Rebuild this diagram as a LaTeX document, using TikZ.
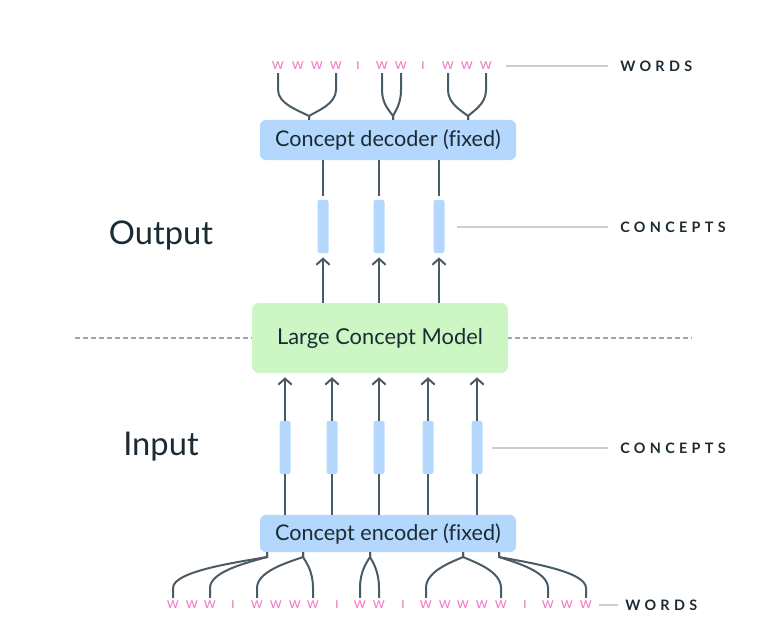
\documentclass[tikz,border=0pt]{standalone}
\usepackage{fontspec}
\setmainfont{Lato}[Ligatures=NoCommon]
\newfontfamily\labfont[LetterSpace=30]{Lato Bold}
\usetikzlibrary{arrows.meta}
\definecolor{pinkw}{HTML}{F47BC8}
\definecolor{darktext}{HTML}{1C2B33}
\definecolor{wirec}{HTML}{4B5B66}
\definecolor{blueb}{HTML}{B3D7FD}
\definecolor{greenb}{HTML}{CCF7C4}
\definecolor{grayl}{HTML}{C9CED3}
\definecolor{dashc}{HTML}{93A8BA}
\tikzset{
  word/.style={text=pinkw, font=\fontsize{11.5}{12}\selectfont, inner sep=2.2pt},
  wire/.style={draw=wirec, line width=1.5pt},
  arr/.style={wire, -{Straight Barb[length=4.5pt,width=10pt]}},
  bar/.style={fill=blueb, rounded corners=1.8pt, minimum width=8.25pt, minimum height=40pt, inner sep=0pt},
  boxb/.style={fill=blueb, rounded corners=4.5pt, minimum width=192pt, text=darktext, font=\fontsize{16.2}{18}\selectfont, inner sep=0pt},
  lcm/.style={fill=greenb, rounded corners=5pt, minimum width=192pt, minimum height=52.5pt, text=darktext, font=\fontsize{16.4}{18}\selectfont, inner sep=0pt},
  grayline/.style={draw=grayl, line width=1.1pt},
  tag/.style={text=darktext, font=\fontsize{10.8}{12}\labfont, anchor=west, inner sep=0pt},
  side/.style={text=darktext, font=\fontsize{24.5}{28}\selectfont, inner sep=0pt},
}
\newcommand\toparm[3]{\draw[wire] (#1.south) -- (#2,90) .. controls (#2,104) and ({#3+0.3*(#2-#3)},111) .. (#3,116) -- (#3,120);}
\newcommand\botarm[3]{\draw[wire] (#3,552) -- (#3,557) .. controls ({#3+0.3*(#2-#3)},562) and (#2,571) .. (#2,588) -- (#1.north);}
\begin{document}
\begin{tikzpicture}[x=0.75pt,y=-0.75pt]
\useasboundingbox (0,0) rectangle (775,642);
% dashed separator
\coordinate (dl) at (75,338);
\coordinate (dr) at (692,338);
\draw[draw=dashc, line width=0.8pt, dash pattern=on 3.5pt off 2.5pt] (dl) -- (dr);
% boxes
\node[boxb, minimum height=30pt] (dec) at (388,140) {Concept decoder (fixed)};
\node[lcm] (lcm) at (380,338) {Large Concept Model};
\node[boxb, minimum height=28pt] (enc) at (388,533.5) {Concept encoder (fixed)};
% side labels
\node[side] (out) at (161,235) {Output};
\node[side] (inp) at (161,447) {Input};
% top words
\foreach \x [count=\i] in {278,298,317,336,382,401,448,467,486}
  \node[word] (tw\i) at (\x,66) {w};
\foreach \x [count=\i] in {358,423}
  \node[word] (ts\i) at (\x,66) {ı};
% bottom words
\foreach \x [count=\i] in {173,192,210,257,276,295,313,360,379,426,445,463,482,501,548,567,586}
  \node[word] (bw\i) at (\x,605) {w};
\foreach \x [count=\i] in {233,337,403,525}
  \node[word] (bs\i) at (\x,605) {ı};
% top arms
\toparm{tw1}{278}{309}
\toparm{tw4}{336}{309}
\toparm{tw5}{382}{393}
\toparm{tw6}{401}{393}
\toparm{tw7}{448}{468}
\toparm{tw9}{486}{468}
% bottom arms
\botarm{bw1}{173}{267}
\botarm{bw3}{210}{267}
\botarm{bw4}{257}{303}
\botarm{bw7}{313}{303}
\botarm{bw8}{360}{370}
\botarm{bw9}{379}{370}
\botarm{bw10}{426}{463}
\botarm{bw14}{501}{463}
\botarm{bw15}{548}{499}
\botarm{bw17}{586}{499}
% output concepts
\foreach \x [count=\i] in {323,379,439} {
  \node[bar] (ob\i) at (\x,226.5) {};
  \draw[wire, shorten >=3pt] (dec.south -| ob\i) -- (ob\i.north);
  \draw[arr, shorten >=3pt] (lcm.north -| ob\i) -- (ob\i.south);
}
% input concepts
\foreach \x [count=\i] in {285,332,379,428,477} {
  \node[bar] (ib\i) at (\x,447.5) {};
  \draw[wire] (enc.north -| ib\i) -- (ib\i.south);
  \draw[arr, shorten >=3pt] (ib\i.north) -- (lcm.south -| ib\i);
}
% tags
\node[tag] (wt) at (620,66) {WORDS};
\node[tag] (ct) at (620,227) {CONCEPTS};
\node[tag] (ci) at (620,448) {CONCEPTS};
\node[tag] (wb) at (625,605) {WORDS};
\draw[grayline] ([xshift=8pt]tw9.east |- wt.west) -- ([xshift=-9pt]wt.west);
\draw[grayline] ([xshift=9.4pt]ob3.east |- ct.west) -- ([xshift=-9pt]ct.west);
\draw[grayline] ([xshift=7pt]ib5.east |- ci.west) -- ([xshift=-9pt]ci.west);
\draw[grayline] ([xshift=3pt]bw17.east |- wb.west) -- ([xshift=-5pt]wb.west);
\end{tikzpicture}
\end{document}
